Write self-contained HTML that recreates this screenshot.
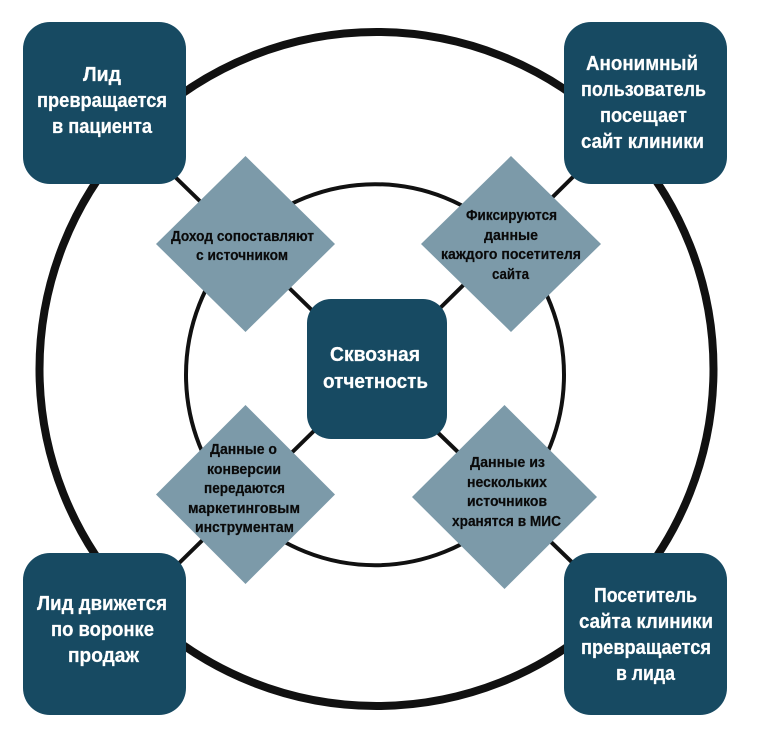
<!DOCTYPE html>
<html lang="ru">
<head>
<meta charset="utf-8">
<title>Сквозная отчетность</title>
<style>
html,body{margin:0;padding:0;background:#fff;width:768px;height:740px;overflow:hidden}
svg{display:block}
text{font-family:"Liberation Sans","Noto Sans CJK SC",sans-serif;font-weight:bold}
.w{fill:#fff;stroke:#fff;stroke-width:.25px;font-size:20.5px}
.b{fill:#0a0a0a;stroke:#0a0a0a;stroke-width:.2px;font-size:14.5px}
.box{fill:#174a62}
.dia{fill:#7c9aa9}
</style>
</head>
<body>
<svg width="768" height="740" viewBox="0 0 768 740" xmlns="http://www.w3.org/2000/svg">
<rect width="768" height="740" fill="#fff"/>
<circle cx="376.5" cy="369" r="337" fill="none" stroke="#111" stroke-width="8"/>
<ellipse cx="375" cy="374.7" rx="189" ry="190.5" fill="none" stroke="#111" stroke-width="4"/>
<g stroke="#111" stroke-width="4" fill="none">
<line x1="170" y1="172" x2="320" y2="318"/>
<line x1="580" y1="170" x2="430" y2="318"/>
<line x1="170" y1="572" x2="320" y2="425"/>
<line x1="580" y1="570" x2="430" y2="425"/>
</g>
<rect class="box" x="23" y="22" width="163" height="162" rx="27"/>
<rect class="box" x="564" y="22" width="163" height="162" rx="27"/>
<rect class="box" x="23" y="553" width="163" height="162" rx="27"/>
<rect class="box" x="564" y="553" width="163" height="162" rx="27"/>
<rect class="box" x="307" y="299" width="140" height="140" rx="24"/>
<polygon class="dia" points="245.5,156 335,244 245.5,332 156,244"/>
<polygon class="dia" points="511,156 601,244 511,332 421,244"/>
<polygon class="dia" points="245.5,405 335,494.5 245.5,584 156,494.5"/>
<polygon class="dia" points="504.5,405 597,497 504.5,589 412,497"/>

<text class="w" x="83" y="81" textLength="38" lengthAdjust="spacingAndGlyphs">Лид</text>
<text class="w" x="37" y="107" textLength="130" lengthAdjust="spacingAndGlyphs">превращается</text>
<text class="w" x="52" y="133" textLength="100" lengthAdjust="spacingAndGlyphs">в пациента</text>

<text class="w" x="586" y="70" textLength="112" lengthAdjust="spacingAndGlyphs">Анонимный</text>
<text class="w" x="581" y="96" textLength="125" lengthAdjust="spacingAndGlyphs">пользователь</text>
<text class="w" x="600" y="122" textLength="87" lengthAdjust="spacingAndGlyphs">посещает</text>
<text class="w" x="581" y="148" textLength="123" lengthAdjust="spacingAndGlyphs">сайт клиники</text>

<text class="w" x="37" y="610" textLength="130" lengthAdjust="spacingAndGlyphs">Лид движется</text>
<text class="w" x="51" y="636" textLength="103" lengthAdjust="spacingAndGlyphs">по воронке</text>
<text class="w" x="68" y="662" textLength="71" lengthAdjust="spacingAndGlyphs">продаж</text>

<text class="w" x="594" y="602" textLength="103" lengthAdjust="spacingAndGlyphs">Посетитель</text>
<text class="w" x="579" y="628" textLength="134" lengthAdjust="spacingAndGlyphs">сайта клиники</text>
<text class="w" x="581" y="654" textLength="130" lengthAdjust="spacingAndGlyphs">превращается</text>
<text class="w" x="616" y="680" textLength="59" lengthAdjust="spacingAndGlyphs">в лида</text>

<text class="w" x="330" y="361" textLength="90" lengthAdjust="spacingAndGlyphs">Сквозная</text>
<text class="w" x="323" y="388" textLength="105" lengthAdjust="spacingAndGlyphs">отчетность</text>

<text class="b" x="171" y="241" textLength="143" lengthAdjust="spacingAndGlyphs">Доход сопоставляют</text>
<text class="b" x="196" y="260" textLength="92" lengthAdjust="spacingAndGlyphs">с источником</text>

<text class="b" x="466" y="220" textLength="91" lengthAdjust="spacingAndGlyphs">Фиксируются</text>
<text class="b" x="484" y="240" textLength="54" lengthAdjust="spacingAndGlyphs">данные</text>
<text class="b" x="441" y="259" textLength="140" lengthAdjust="spacingAndGlyphs">каждого посетителя</text>
<text class="b" x="492" y="279" textLength="37" lengthAdjust="spacingAndGlyphs">сайта</text>

<text class="b" x="210" y="454" textLength="67" lengthAdjust="spacingAndGlyphs">Данные о</text>
<text class="b" x="207" y="474" textLength="74" lengthAdjust="spacingAndGlyphs">конверсии</text>
<text class="b" x="204" y="493" textLength="81" lengthAdjust="spacingAndGlyphs">передаются</text>
<text class="b" x="188" y="513" textLength="112" lengthAdjust="spacingAndGlyphs">маркетинговым</text>
<text class="b" x="195" y="532" textLength="99" lengthAdjust="spacingAndGlyphs">инструментам</text>

<text class="b" x="470" y="467" textLength="75" lengthAdjust="spacingAndGlyphs">Данные из</text>
<text class="b" x="467" y="487" textLength="80" lengthAdjust="spacingAndGlyphs">нескольких</text>
<text class="b" x="467" y="506" textLength="80" lengthAdjust="spacingAndGlyphs">источников</text>
<text class="b" x="452" y="526" textLength="109" lengthAdjust="spacingAndGlyphs">хранятся в МИС</text>
</svg>
</body>
</html>
